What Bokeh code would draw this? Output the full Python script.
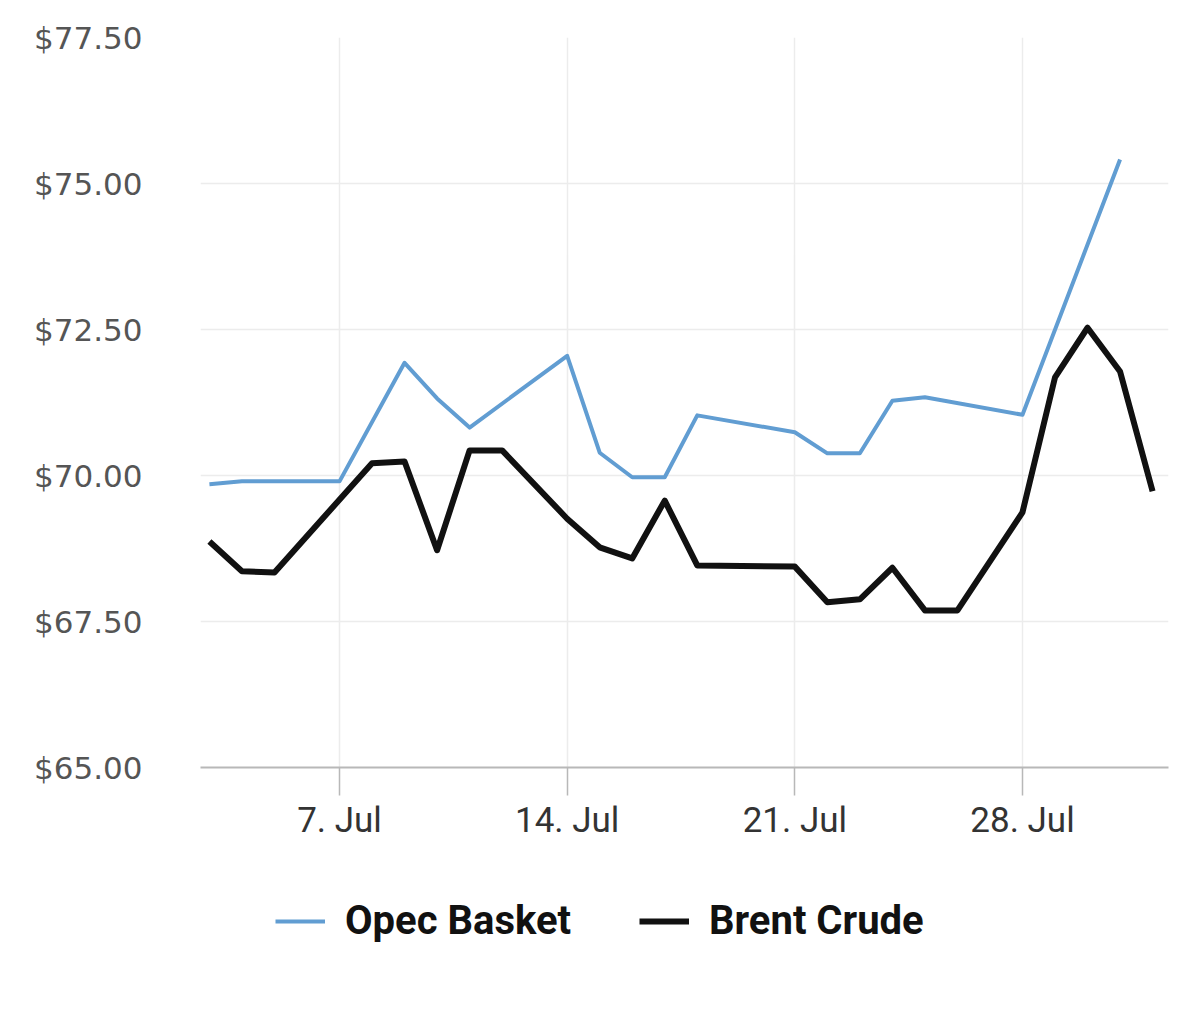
from datetime import datetime
import pandas as pd
from bokeh.plotting import figure
from bokeh.layouts import column
from bokeh.models import (Legend, LegendItem, DaysTicker, DatetimeTickFormatter,
                          NumeralTickFormatter, FixedTicker, Range1d, ColumnDataSource)
from bokeh.embed import file_html
from bokeh.resources import INLINE

# ---- data ----
opec_dates = ["2025-07-03", "2025-07-04", "2025-07-07", "2025-07-09", "2025-07-10",
              "2025-07-11", "2025-07-14", "2025-07-15", "2025-07-16", "2025-07-17",
              "2025-07-18", "2025-07-21", "2025-07-22", "2025-07-23", "2025-07-24",
              "2025-07-25", "2025-07-28", "2025-07-31"]
opec_values = [69.85, 69.90, 69.90, 71.93, 71.32,
               70.82, 72.05, 70.39, 69.97, 69.97,
               71.03, 70.74, 70.38, 70.38, 71.28,
               71.34, 71.04, 75.41]

brent_dates = ["2025-07-03", "2025-07-04", "2025-07-05", "2025-07-08", "2025-07-09",
               "2025-07-10", "2025-07-11", "2025-07-12", "2025-07-14", "2025-07-15",
               "2025-07-16", "2025-07-17", "2025-07-18", "2025-07-21", "2025-07-22",
               "2025-07-23", "2025-07-24", "2025-07-25", "2025-07-26", "2025-07-28",
               "2025-07-29", "2025-07-30", "2025-07-31", "2025-08-01"]
brent_values = [68.87, 68.36, 68.34, 70.21, 70.24,
                68.72, 70.43, 70.43, 69.26, 68.77,
                68.58, 69.57, 68.46, 68.44, 67.83,
                67.88, 68.42, 67.69, 67.69, 69.37,
                71.68, 72.53, 71.78, 69.73]

y_ticks = [65.0, 67.5, 70.0, 72.5, 75.0, 77.5]
tick_days = [7, 14, 21, 28]
series_names = ["Opec Basket", "Brent Crude"]
series_colors = ["#619dd2", "#111111"]
series_widths = [4, 6]

opec_src = ColumnDataSource(dict(x=pd.to_datetime(opec_dates), y=opec_values))
brent_src = ColumnDataSource(dict(x=pd.to_datetime(brent_dates), y=brent_values))

p = figure(width=1192, height=847, x_axis_type="datetime",
           output_backend="svg", toolbar_location=None,
           x_range=Range1d(datetime(2025, 7, 2, 17, 25), datetime(2025, 8, 1, 11, 45)),
           y_range=Range1d(65, 77.5),
           min_border_left=200, min_border_right=24, min_border_top=37,
           min_border_bottom=80)
p.outline_line_color = None
p.background_fill_color = "white"
p.border_fill_color = "white"

p.line("x", "y", source=opec_src, line_color=series_colors[0],
       line_width=series_widths[0], line_join="round")
p.line("x", "y", source=brent_src, line_color=series_colors[1],
       line_width=series_widths[1], line_join="round")

# x axis
xa = p.xaxis[0]
xa.ticker = DaysTicker(days=tick_days)
xa.formatter = DatetimeTickFormatter(days="%-d. %b", months="%-d. %b")
xa.axis_line_color = "#b8b8b8"
xa.axis_line_width = 2
xa.major_tick_line_color = "#b8b8b8"
xa.major_tick_line_width = 1.5
xa.major_tick_in = 0
xa.major_tick_out = 28
xa.minor_tick_line_color = None
xa.major_label_standoff = 4
xa.major_label_text_font = "Roboto"
xa.major_label_text_font_size = "35px"
xa.major_label_text_color = "#333333"

# y axis
ya = p.yaxis[0]
ya.ticker = FixedTicker(ticks=y_ticks)
ya.formatter = NumeralTickFormatter(format="$0,0.00")
ya.axis_line_color = None
ya.major_tick_line_color = None
ya.minor_tick_line_color = None
ya.major_label_standoff = 52
ya.major_label_text_font = "DejaVu Sans"
ya.major_label_text_font_size = "31px"
ya.major_label_text_color = "#555555"

p.xgrid.grid_line_color = "#ececec"
p.xgrid.grid_line_width = 1.5
p.ygrid.grid_line_color = "#ececec"
p.ygrid.grid_line_width = 1.5

# legend strip below the chart (series drawn out of its view, only the keys show)
lg = figure(width=1192, height=150, output_backend="svg", toolbar_location=None,
            x_range=Range1d(0, 1), y_range=Range1d(0, 1),
            min_border_left=200, min_border_right=24, min_border_top=0, min_border_bottom=0)
lg.axis.visible = False
lg.grid.visible = False
lg.outline_line_color = None
lg.background_fill_color = "white"
lg.border_fill_color = "white"
k_opec = lg.line("x", "y", source=opec_src, line_color=series_colors[0],
                 line_width=series_widths[0])
k_brent = lg.line("x", "y", source=brent_src, line_color=series_colors[1],
                  line_width=series_widths[1])

legend = Legend(items=[LegendItem(label=series_names[0], renderers=[k_opec]),
                       LegendItem(label=series_names[1], renderers=[k_brent])],
                orientation="horizontal", location=(75, 53),
                glyph_width=50, glyph_height=30, label_standoff=20, spacing=68,
                label_text_font="Roboto", label_text_font_style="bold",
                label_text_font_size="40px", label_text_color="#111111",
                border_line_alpha=0, background_fill_alpha=0, padding=0, margin=0)
lg.add_layout(legend, "center")

page = column(p, lg, spacing=0)
open("out.html", "w").write(file_html(page, INLINE))
